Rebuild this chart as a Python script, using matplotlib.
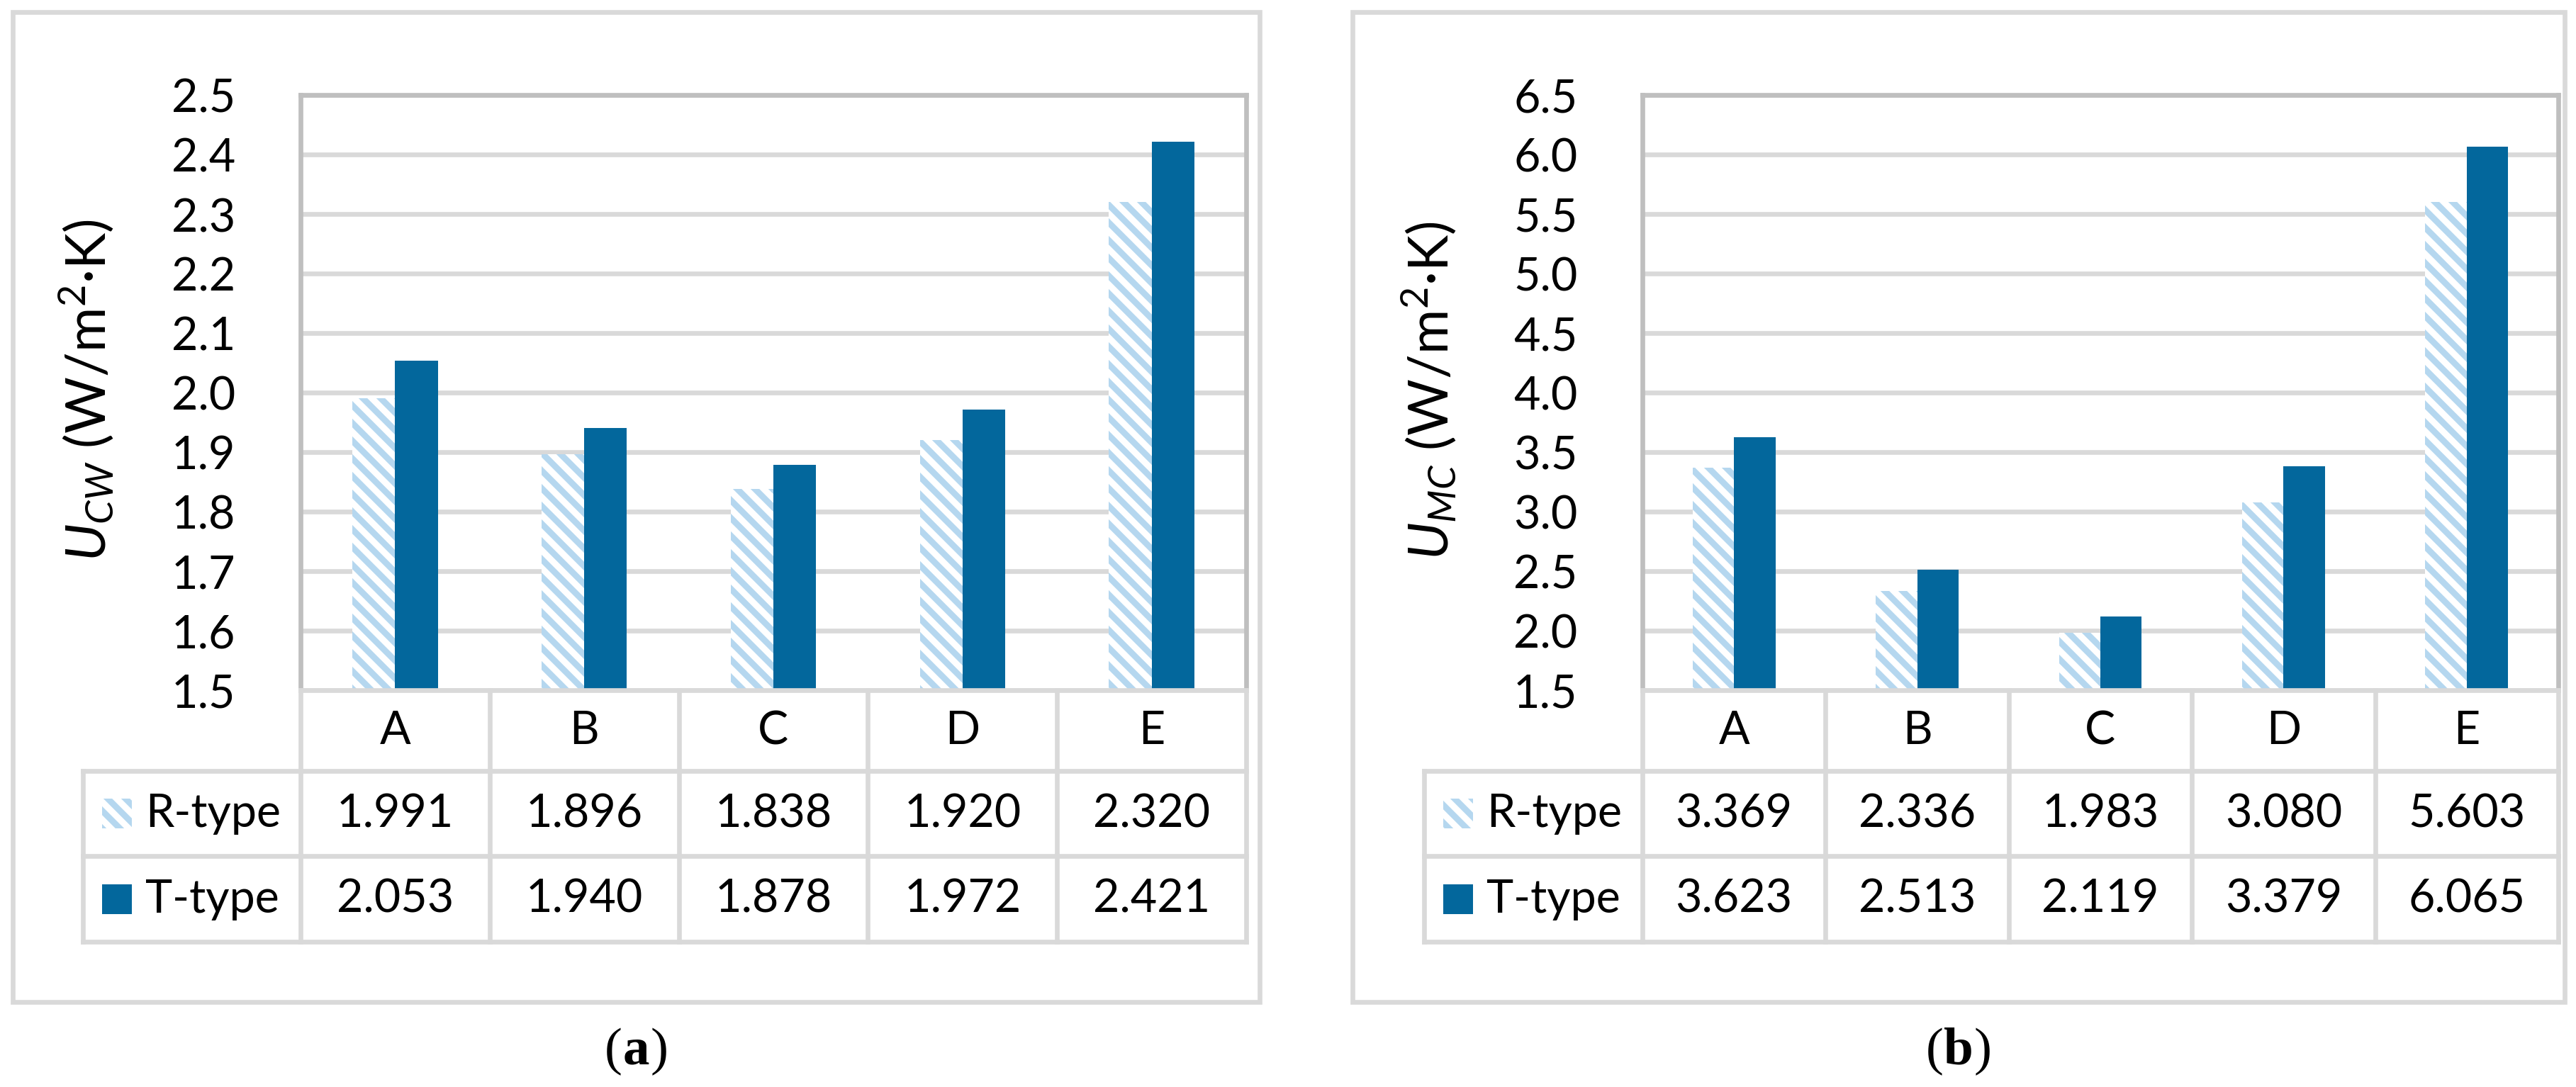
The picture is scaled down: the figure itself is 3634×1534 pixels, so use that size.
"""Two Excel-style clustered bar charts with a data table underneath (U-values)."""
import matplotlib

matplotlib.use("Agg")

import matplotlib.pyplot as plt
import numpy as np
from matplotlib.patches import Rectangle

# ---- data -------------------------------------------------------------
categories = ["A", "B", "C", "D", "E"]
series_names = ["R-type", "T-type"]

u_cw_r = [1.991, 1.896, 1.838, 1.920, 2.320]
u_cw_t = [2.053, 1.940, 1.878, 1.972, 2.421]

u_mc_r = [3.369, 2.336, 1.983, 3.080, 5.603]
u_mc_t = [3.623, 2.513, 2.119, 3.379, 6.065]

ticks_cw = [1.5, 1.6, 1.7, 1.8, 1.9, 2.0, 2.1, 2.2, 2.3, 2.4, 2.5]
ticks_mc = [1.5, 2.0, 2.5, 3.0, 3.5, 4.0, 4.5, 5.0, 5.5, 6.0, 6.5]

label_cw = r"$U_{CW}$ (W/m$^{2}$·K)"
label_mc = r"$U_{MC}$ (W/m$^{2}$·K)"

# ---- style ------------------------------------------------------------
W, H, DPI = 3634, 1535, 150
LIGHT = "#B5D7EF"
DARK = "#03679C"
GRID = "#D9D9D9"
SPINE = "#BFBFBF"
LW = 3.2  # points, ~6.7 px at 150 dpi
FS = 31

plt.rcParams["font.family"] = ["Lato", "DejaVu Sans"]
plt.rcParams["mathtext.fontset"] = "custom"
plt.rcParams["mathtext.rm"] = "Lato"
plt.rcParams["mathtext.it"] = "Lato:italic"
plt.rcParams["hatch.linewidth"] = 4.2

fig = plt.figure(figsize=(W / DPI, H / DPI), dpi=DPI)

# overlay in pixel coordinates for borders and table grid
over = fig.add_axes([0, 0, 1, 1], zorder=5)
over.set_xlim(0, W)
over.set_ylim(H, 0)
over.axis("off")
over.patch.set_visible(False)


def fx(px):
    return px / W


def draw_panel(border, axes_box, table_left, rows_y, r_vals, t_vals, ticks, ylabel, label_x, caption):
    bx0, bx1, by0, by1 = border
    ax0, ax1, ay0, ay1 = axes_box

    over.add_patch(Rectangle((bx0, by0), bx1 - bx0, by1 - by0, fill=False,
                             edgecolor=GRID, linewidth=LW))

    ax = fig.add_axes([fx(ax0), 1 - ay1 / H, (ax1 - ax0) / W, (ay1 - ay0) / H])
    x = np.arange(len(categories))
    bw = 0.226
    ax.bar(x - bw / 2, r_vals, bw, color="white", edgecolor=LIGHT, linewidth=0,
           hatch="\\\\", zorder=2)
    ax.bar(x + bw / 2, t_vals, bw, color=DARK, linewidth=0, zorder=2)
    ax.set_xlim(-0.5, len(categories) - 0.5)
    ax.set_ylim(ticks[0], ticks[-1])
    ax.set_yticks(ticks)
    ax.set_yticklabels([f"{t:.1f}" for t in ticks], fontsize=FS)
    ax.tick_params(axis="y", length=0, pad=44)
    ax.set_xticks([])
    ax.yaxis.grid(True, color=GRID, linewidth=LW)
    ax.set_axisbelow(True)
    for side in ("left", "top", "right"):
        ax.spines[side].set_color(SPINE)
        ax.spines[side].set_linewidth(LW)
    ax.spines["bottom"].set_visible(False)

    fig.text(fx(label_x), 1 - ((ay0 + ay1) / 2 - 4) / H, ylabel, rotation=90,
             ha="center", va="center", fontsize=37)

    # data table under the plot
    y0, y1, y2, y3 = rows_y
    cw = (ax1 - ax0) / len(categories)
    line_kw = dict(color=GRID, linewidth=LW, solid_capstyle="projecting")
    over.plot([ax0, ax1], [y0, y0], **line_kw)
    for yy in (y1, y2, y3):
        over.plot([table_left, ax1], [yy, yy], **line_kw)
    for k in range(len(categories) + 1):
        xx = ax0 + k * cw
        over.plot([xx, xx], [y0, y3], **line_kw)
    over.plot([table_left, table_left], [y1, y3], **line_kw)

    for k, cat in enumerate(categories):
        cx = ax0 + (k + 0.5) * cw
        over.text(cx, (y0 + y1) / 2, cat, ha="center", va="center", fontsize=FS)
        over.text(cx, (y1 + y2) / 2, f"{r_vals[k]:.3f}", ha="center", va="center", fontsize=FS)
        over.text(cx, (y2 + y3) / 2, f"{t_vals[k]:.3f}", ha="center", va="center", fontsize=FS)

    sw = 42
    for (ya, yb), name, style in (((y1, y2), series_names[0], "r"), ((y2, y3), series_names[1], "t")):
        yc = (ya + yb) / 2
        if style == "r":
            over.add_patch(Rectangle((table_left + 27, yc - sw / 2), sw, sw, facecolor="white",
                                     edgecolor=LIGHT, linewidth=0, hatch="\\\\"))
        else:
            over.add_patch(Rectangle((table_left + 27, yc - sw / 2), sw, sw, facecolor=DARK,
                                     linewidth=0))
        over.text(table_left + 88, yc, name, ha="left", va="center", fontsize=FS)

    # caption "(a)" with a bold letter, regular parentheses
    cx = (bx0 + bx1) / 2
    cy = 1484
    serif = ["Liberation Serif", "DejaVu Serif"]
    mid = over.text(cx, cy, caption, ha="center", va="center", fontsize=36,
                    family=serif, weight="bold")
    renderer = fig.canvas.get_renderer()
    bb = mid.get_window_extent(renderer)
    half = bb.width / 2
    over.text(cx - half - 1, cy, "(", ha="right", va="center", fontsize=36, family=serif)
    over.text(cx + half + 1, cy, ")", ha="left", va="center", fontsize=36, family=serif)
    return ax


rows = (975, 1089, 1209, 1330)
draw_panel((18, 1777, 18, 1415), (424, 1758, 135, 975), 117, rows,
           u_cw_r, u_cw_t, ticks_cw, label_cw, 122, "a")
draw_panel((1908, 3618, 18, 1415), (2317, 3609, 135, 975), 2009, rows,
           u_mc_r, u_mc_t, ticks_mc, label_mc, 2016, "b")

fig.savefig("out.png", dpi=DPI, facecolor="white")
